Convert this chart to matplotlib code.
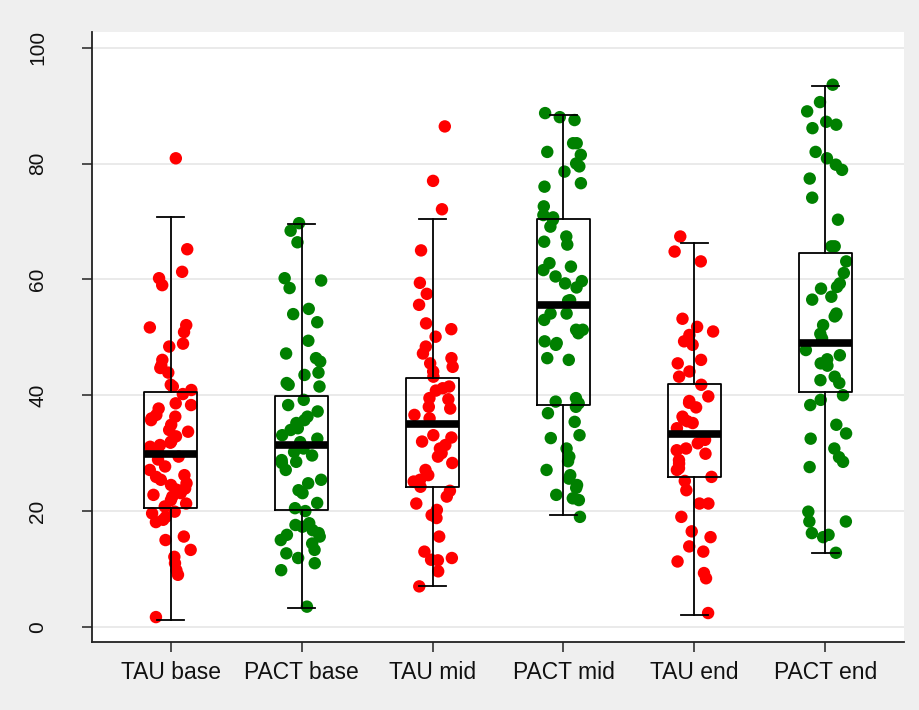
import numpy as np
import matplotlib
matplotlib.use("Agg")
import matplotlib.pyplot as plt

plt.rcParams['font.family'] = ['Liberation Sans', 'DejaVu Sans']

categories = ["TAU base", "PACT base", "TAU mid", "PACT mid", "TAU end", "PACT end"]
point_colors = ["#FF0000", "#008000", "#FF0000", "#008000", "#FF0000", "#008000"]

# box statistics
q1_vals = [20.5, 20.1, 24.2, 38.3, 25.9, 40.6]
median_vals = [29.8, 31.4, 35.1, 55.6, 33.3, 49.0]
q3_vals = [40.6, 39.9, 42.9, 70.4, 41.9, 64.6]
whisker_lo = [1.2, 3.2, 7.0, 19.3, 2.0, 12.8]
whisker_hi = [70.7, 69.6, 70.4, 88.4, 66.2, 93.4]

tau_base = [80.9, 65.2, 61.3, 60.2, 59.0, 52.1, 51.7, 50.9, 48.9, 48.4, 46.1, 45.1,
            44.7, 43.9, 41.8, 41.5, 40.9, 40.2, 38.6, 38.3, 37.7, 36.6, 36.3, 36.0,
            35.7, 34.9, 34.0, 33.7, 32.9, 32.0, 31.8, 31.4, 31.1, 30.6, 29.4, 28.9,
            27.7, 27.1, 26.2, 25.9, 25.4, 24.8, 24.5, 23.9, 23.7, 23.1, 22.8, 22.5,
            21.9, 21.3, 20.8, 19.9, 19.6, 19.0, 18.5, 18.1, 15.6, 15.0, 13.3, 12.1,
            11.0, 9.8, 9.0, 1.7]
pact_base = [69.7, 68.4, 66.4, 60.2, 59.8, 58.5, 54.9, 54.0, 52.6, 49.4, 47.2, 46.4,
             45.8, 43.9, 43.5, 42.1, 41.8, 41.5, 39.2, 38.3, 37.2, 36.3, 35.7, 35.2,
             34.3, 34.0, 33.1, 32.5, 31.9, 30.8, 30.2, 29.6, 28.8, 28.5, 28.3, 27.1,
             25.4, 24.8, 23.6, 23.1, 21.4, 20.5, 20.0, 17.9, 17.6, 17.3, 16.7, 16.2,
             15.9, 15.6, 15.0, 14.4, 13.3, 12.7, 11.9, 11.0, 9.8, 3.5]
tau_mid = [86.4, 77.0, 72.1, 65.0, 59.4, 57.5, 55.6, 52.4, 51.4, 50.1, 48.4, 47.2,
           46.4, 45.5, 44.9, 44.1, 43.2, 41.5, 41.2, 40.8, 39.5, 39.3, 38.0, 37.7,
           36.6, 36.0, 33.1, 32.7, 32.0, 31.4, 30.8, 30.0, 29.4, 28.3, 27.1, 26.2,
           25.4, 25.1, 24.2, 23.5, 22.5, 21.3, 20.2, 19.3, 18.8, 15.6, 13.0, 11.9,
           11.6, 11.5, 9.6, 7.0]
pact_mid = [88.7, 88.0, 87.5, 83.5, 83.5, 82.0, 81.5, 80.0, 79.5, 78.6, 76.6, 76.0,
            72.6, 71.1, 70.7, 70.3, 69.1, 67.4, 66.5, 66.0, 62.8, 62.2, 61.6, 60.5,
            59.7, 59.3, 58.6, 56.4, 56.3, 54.1, 54.1, 53.0, 51.3, 51.3, 50.7, 49.3,
            49.0, 48.7, 46.4, 46.1, 39.5, 38.9, 38.6, 38.0, 36.9, 35.4, 33.1, 32.6,
            30.8, 29.4, 28.6, 27.1, 26.2, 25.6, 24.5, 24.0, 22.8, 22.2, 21.9, 19.0]
tau_end = [67.4, 64.8, 63.1, 53.2, 51.8, 51.0, 50.4, 49.3, 48.7, 46.1, 45.5, 44.1,
           43.2, 41.8, 39.8, 39.0, 38.7, 37.9, 36.3, 35.8, 35.5, 35.2, 34.3, 32.3,
           31.7, 30.8, 30.5, 29.9, 28.8, 28.2, 27.4, 27.1, 25.9, 25.2, 23.6, 21.3,
           21.3, 19.0, 16.5, 15.5, 13.9, 13.0, 11.3, 9.3, 8.4, 2.4]
pact_end = [93.6, 90.6, 89.0, 87.2, 86.7, 86.1, 82.0, 80.9, 79.8, 78.9, 77.4, 74.1,
            70.3, 65.7, 65.7, 63.1, 61.1, 59.3, 58.7, 58.4, 57.0, 56.5, 54.1, 53.9,
            53.6, 52.1, 50.6, 49.8, 47.8, 46.9, 46.2, 45.5, 45.1, 43.2, 42.6, 42.1,
            40.0, 39.2, 38.3, 34.9, 33.4, 32.5, 30.8, 29.3, 28.5, 27.6, 19.9, 18.2,
            18.2, 16.2, 15.9, 15.5, 12.8]

groups = [tau_base, pact_base, tau_mid, pact_mid, tau_end, pact_end]
y_ticks = [0, 20, 40, 60, 80, 100]

W, H = 919, 710
fig = plt.figure(figsize=(W / 100, H / 100), dpi=100, facecolor="#EFEFEF")
ax = fig.add_axes([92 / W, 1 - 642 / H, (904 - 92) / W, (642 - 32) / H])
ax.set_facecolor("white")

positions = np.arange(1, len(categories) + 1)
rng = np.random.default_rng(7)
for pos, vals, col in zip(positions, groups, point_colors):
    jitter = rng.uniform(-0.16, 0.16, len(vals))
    ax.scatter(pos + jitter, vals, s=80, color=col, edgecolors="none", zorder=2)

stats = []
for lab, q1, med, q3, lo, hi in zip(categories, q1_vals, median_vals, q3_vals,
                                     whisker_lo, whisker_hi):
    stats.append(dict(label=lab, q1=q1, med=med, q3=q3, whislo=lo, whishi=hi, fliers=[]))

ax.bxp(stats, positions=positions, widths=0.41, capwidths=0.21, showfliers=False,
       boxprops=dict(color="black", linewidth=1.3),
       whiskerprops=dict(color="black", linewidth=1.3),
       capprops=dict(color="black", linewidth=1.3),
       medianprops=dict(color="black", linewidth=5.5, solid_capstyle="butt"),
       zorder=3)

ax.set_xlim(0.4, 6.6)
ax.set_ylim(-2.6, 102.7)
ax.set_yticks(y_ticks)
ax.set_xticks(positions)
ax.set_xticklabels(categories, fontsize=16.5, color="#111111")
ax.set_yticklabels([str(t) for t in y_ticks], fontsize=15, color="#111111",
                   rotation=90, va="center", ha="center")
ax.tick_params(axis="y", length=7, width=1.1, pad=32, color="#222222")
ax.tick_params(axis="x", length=7, width=1.1, pad=7, color="#222222")

ax.yaxis.grid(True, color="#E6E6E6", linewidth=1.2)
ax.set_axisbelow(True)
for side in ["top", "right"]:
    ax.spines[side].set_visible(False)
for side in ["left", "bottom"]:
    ax.spines[side].set_color("#222222")
    ax.spines[side].set_linewidth(1.3)

fig.savefig("out.png", dpi=100, facecolor=fig.get_facecolor())
